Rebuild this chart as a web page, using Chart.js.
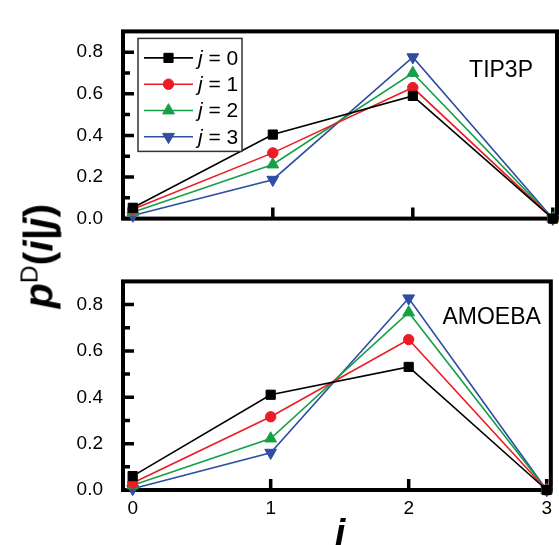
<!DOCTYPE html>
<html>
<head>
<meta charset="utf-8">
<script src="https://cdn.jsdelivr.net/npm/chart.js@4.4.1/dist/chart.umd.min.js"></script>
<style>
body { margin: 0; background: #fff; }
#wrap { position: relative; width: 559px; height: 545px; overflow: hidden; }
#c1 { position: absolute; left: 0; top: 0; }
#c2 { position: absolute; left: 0; top: 250px; }
#ylab {
    position: absolute; left: 39px; top: 256px;
    transform: translate(-50%, -50%) rotate(-90deg);
    font: bold 41px "Liberation Sans", Arial, sans-serif;
    white-space: nowrap; color: #000;
}
#ylab sup { font-size: 0.6em; font-weight: normal; }
</style>
</head>
<body>
<div id="wrap">
    <canvas id="c1" width="559" height="250"></canvas>
    <canvas id="c2" width="559" height="295"></canvas>
    <div id="ylab"><i>p</i><sup>D</sup>(<i>i</i>|<i>j</i>)</div>
</div>
<script>
// x values (i) and the j labels
var iValues = [0, 1, 2, 3];
var jLabels = ['0', '1', '2', '3'];

// TIP3P panel
var tip3p_j0 = [0.052, 0.404, 0.590, 0.0];
var tip3p_j1 = [0.045, 0.316, 0.630, 0.0];
var tip3p_j2 = [0.030, 0.260, 0.700, 0.0];
var tip3p_j3 = [0.015, 0.187, 0.776, 0.0];

// AMOEBA panel
var amoeba_j0 = [0.060, 0.411, 0.531, 0.0];
var amoeba_j1 = [0.030, 0.316, 0.649, 0.0];
var amoeba_j2 = [0.020, 0.222, 0.766, 0.0];
var amoeba_j3 = [0.005, 0.161, 0.827, 0.0];

var xTicks = [0, 1, 2, 3];
var yTicks = [0, 0.2, 0.4, 0.6, 0.8];
var yMinorTicks = [0.1, 0.3, 0.5, 0.7];

var colors = ['#000000', '#ec1c24', '#14a046', '#2e4da3'];
var pointStyles = ['rect', 'circle', 'triangle', 'triangle'];
var rotations = [0, 0, 0, 180];
var radii = [6.5, 5.2, 6.8, 6.8];

var FONT = '"Liberation Sans", Arial, sans-serif';

function makeDatasets(series) {
    return series.map(function (vals, k) {
        return {
            label: 'j = ' + jLabels[k],
            data: vals.map(function (v, n) { return { x: iValues[n], y: v }; }),
            borderColor: colors[k],
            backgroundColor: colors[k],
            borderWidth: 1.6,
            pointStyle: pointStyles[k],
            pointRotation: rotations[k],
            pointRadius: radii[k],
            pointBorderWidth: 1,
            tension: 0,
            clip: false
        };
    });
}

// frame + inward ticks
var framePlugin = {
    id: 'frame',
    beforeDatasetsDraw: function (chart) {
        var ctx = chart.ctx, a = chart.chartArea;
        var x = chart.scales.x, y = chart.scales.y;
        ctx.save();
        ctx.strokeStyle = '#000';
        ctx.lineWidth = 4;
        ctx.strokeRect(a.left, a.top, a.right - a.left, a.bottom - a.top);
        ctx.lineWidth = 3.5;
        ctx.beginPath();
        yTicks.forEach(function (v) {
            var py = y.getPixelForValue(v);
            ctx.moveTo(a.left, py); ctx.lineTo(a.left + 11, py);
        });
        yMinorTicks.forEach(function (v) {
            var py = y.getPixelForValue(v);
            ctx.moveTo(a.left, py); ctx.lineTo(a.left + 7, py);
        });
        xTicks.forEach(function (v) {
            var px = x.getPixelForValue(v);
            ctx.moveTo(px, a.bottom); ctx.lineTo(px, a.bottom - 11);
        });
        ctx.stroke();
        ctx.restore();
    }
};

// panel name, legend box, x title
var textPlugin = {
    id: 'panelText',
    afterDatasetsDraw: function (chart, args, opts) {
        var ctx = chart.ctx, a = chart.chartArea;
        ctx.save();
        ctx.fillStyle = '#000';
        ctx.font = '23px ' + FONT;
        ctx.textAlign = 'right';
        ctx.textBaseline = 'middle';
        ctx.fillText(opts.name, a.right - opts.nameRight, a.top + opts.nameTop);

        if (opts.legend) {
            var bx = a.left + 15, by = a.top + 7, bw = 104, bh = 113;
            ctx.fillStyle = '#fff';
            ctx.fillRect(bx, by, bw, bh);
            ctx.strokeStyle = '#333';
            ctx.lineWidth = 1.5;
            ctx.strokeRect(bx, by, bw, bh);
            chart.data.datasets.forEach(function (ds, k) {
                var ry = by + 19.5 + k * 26.3;
                ctx.strokeStyle = ds.borderColor;
                ctx.lineWidth = 1.6;
                ctx.beginPath();
                ctx.moveTo(bx + 6, ry); ctx.lineTo(bx + 55, ry);
                ctx.stroke();
                ctx.fillStyle = ds.backgroundColor;
                ctx.lineWidth = 1;
                Chart.helpers.drawPoint(ctx, {
                    pointStyle: ds.pointStyle, rotation: ds.pointRotation,
                    radius: ds.pointRadius, borderWidth: 1
                }, bx + 30.5, ry);
                ctx.fillStyle = '#000';
                ctx.textAlign = 'left';
                ctx.textBaseline = 'middle';
                ctx.font = 'italic 21px ' + FONT;
                ctx.fillText('j', bx + 60, ry + 1);
                var jw = ctx.measureText('j').width;
                ctx.font = '21px ' + FONT;
                ctx.fillText(' = ' + jLabels[k], bx + 60 + jw, ry + 1);
            });
        }

        if (opts.xTitle) {
            ctx.fillStyle = '#000';
            ctx.font = 'italic bold 38px ' + FONT;
            ctx.textAlign = 'center';
            ctx.textBaseline = 'alphabetic';
            ctx.fillText(opts.xTitle, (a.left + a.right) / 2 + 3, chart.height + 1);
        }
        ctx.restore();
    }
};

function makeOptions(padTop, padBottom, showX, ymax, panel) {
    return {
        responsive: false,
        animation: false,
        layout: { autoPadding: false, padding: { left: 0, right: 2, top: padTop, bottom: padBottom } },
        plugins: {
            legend: { display: false },
            tooltip: { enabled: false },
            panelText: panel
        },
        scales: {
            x: {
                type: 'linear',
                min: -0.07, max: 3.03,
                display: showX,
                grid: { display: false, drawTicks: false },
                border: { display: false },
                afterBuildTicks: function (s) { s.ticks = xTicks.map(function (v) { return { value: v }; }); },
                afterFit: function (s) { if (showX) s.height = 55; },
                ticks: {
                    color: '#000', padding: 7,
                    font: { family: FONT, size: 19 },
                    callback: function (v) { return String(v); }
                }
            },
            y: {
                type: 'linear',
                min: 0, max: ymax,
                grid: { display: false, drawTicks: false },
                border: { display: false },
                afterBuildTicks: function (s) { s.ticks = yTicks.map(function (v) { return { value: v }; }); },
                afterFit: function (s) { s.width = 123; },
                ticks: {
                    color: '#000', padding: 20,
                    font: { family: FONT, size: 19 },
                    callback: function (v) { return v.toFixed(1); }
                }
            }
        }
    };
}

var topChart = new Chart(document.getElementById('c1').getContext('2d'), {
    type: 'line',
    data: { datasets: makeDatasets([tip3p_j0, tip3p_j1, tip3p_j2, tip3p_j3]) },
    options: makeOptions(13, 15, false, 0.9, { name: 'TIP3P', nameRight: 24, nameTop: 39, legend: true }),
    plugins: [framePlugin, textPlugin]
});

var bottomChart = new Chart(document.getElementById('c2').getContext('2d'), {
    type: 'line',
    data: { datasets: makeDatasets([amoeba_j0, amoeba_j1, amoeba_j2, amoeba_j3]) },
    options: makeOptions(16, 0, true, 0.9, { name: 'AMOEBA', nameRight: 10, nameTop: 36, legend: false, xTitle: 'i' }),
    plugins: [framePlugin, textPlugin]
});
</script>
</body>
</html>
